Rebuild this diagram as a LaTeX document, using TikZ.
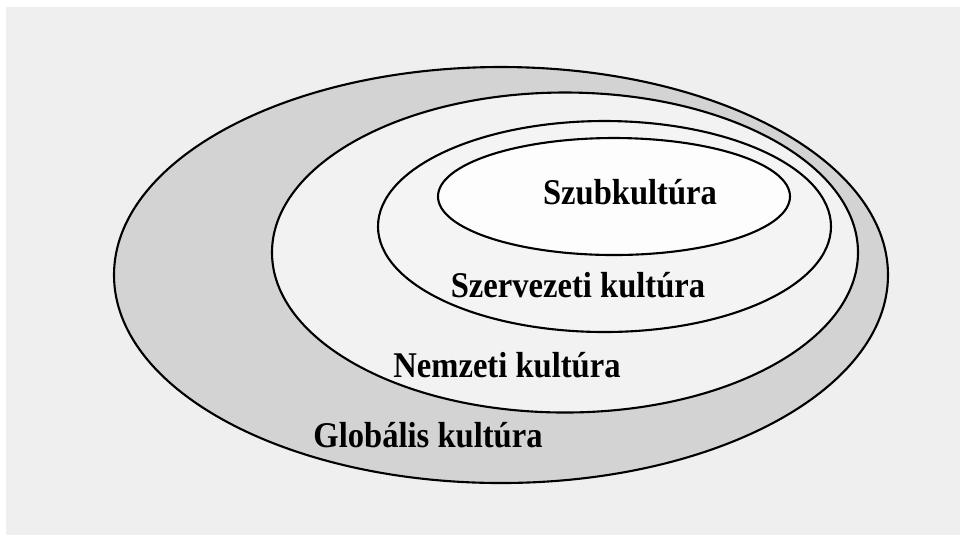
\documentclass[tikz,border=0pt]{standalone}
\usepackage{fontspec}
\setmainfont{Liberation Serif}
\newfontfamily\kulturfont{Liberation Serif}[FakeStretch=0.9]
\usepackage{tikz}

\definecolor{paper}{HTML}{EFEFEF}
\definecolor{globfill}{HTML}{D3D3D3}
\definecolor{nemzfill}{HTML}{F2F2F2}
\definecolor{szervfill}{HTML}{F4F4F4}
\definecolor{szubfill}{HTML}{FDFDFD}

\tikzset{
  ring/.style={draw=black,line width=0.6pt},
  kultlabel/.style={font=\kulturfont\bfseries\fontsize{10.3pt}{12pt}\selectfont,
    anchor=base,inner sep=0pt}
}

\begin{document}
\begin{tikzpicture}[x=0.01cm,y=-0.01cm]

      % frame
      \useasboundingbox (0,0) rectangle (960,535);
      \fill[white] (0,0) rectangle (960,535);
      \fill[paper] (6,7) rectangle (960,535);

      % centres
      \path (501,275) coordinate (glob);
      \path (565,252.5) coordinate (nemz);
      \path (604.5,226.5) coordinate (szerv);
      \path (614,196.5) coordinate (szub);

      % rings, outside in
      \draw[ring,fill=globfill] (glob) ellipse [x radius=387,y radius=208];
      \draw[ring,fill=nemzfill] (nemz) ellipse [x radius=293,y radius=160];
      \draw[ring,fill=szervfill] (szerv) ellipse [x radius=226.5,y radius=105.5];
      \draw[ring,fill=szubfill] (szub) ellipse [x radius=176,y radius=58.5];

      % labels
      \node[kultlabel] (szubtext) at (630,204) {Szubkultúra};
      \node[kultlabel] (szervtext) at (578,297) {Szervezeti kultúra};
      \node[kultlabel] (nemztext) at (507,377) {Nemzeti kultúra};
      \node[kultlabel] (globtext) at (428,447) {Globális kultúra};

    \end{tikzpicture}
\end{document}
